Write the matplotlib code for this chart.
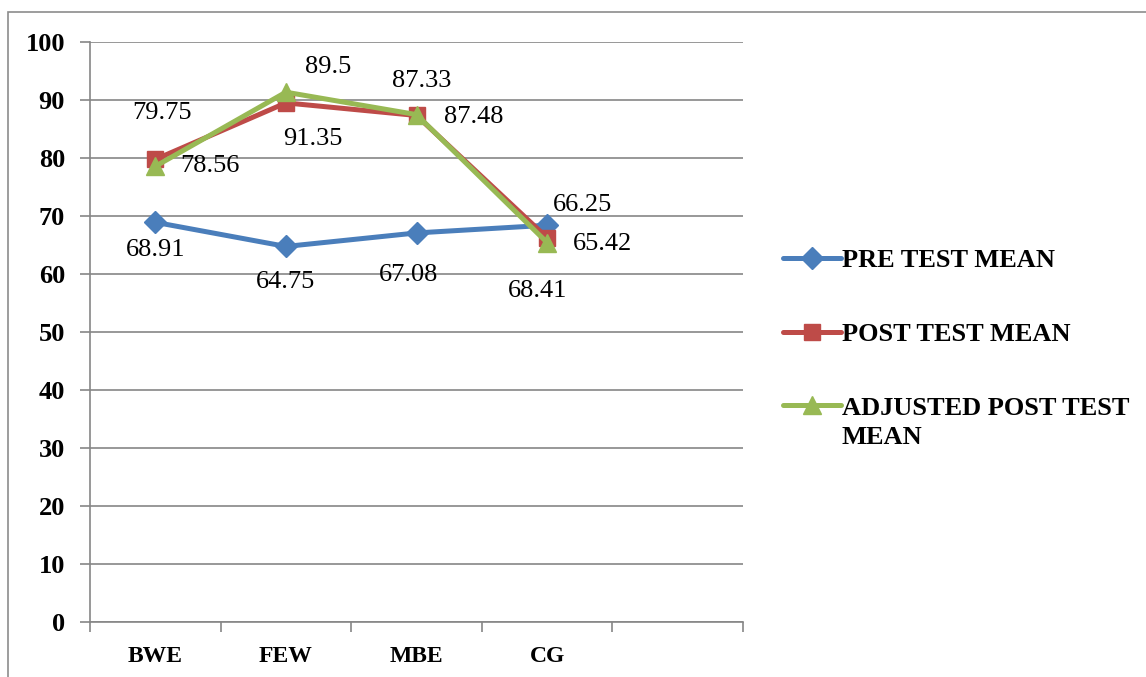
import matplotlib

matplotlib.use("Agg")
import matplotlib.pyplot as plt
from matplotlib.patches import Rectangle

plt.rcParams["font.family"] = ["Liberation Serif", "DejaVu Serif"]

groups = ["BWE", "FEW", "MBE", "CG", ""]
pre_mean = [68.91, 64.75, 67.08, 68.41]
post_mean = [79.75, 89.5, 87.33, 66.25]
adj_post_mean = [78.56, 91.35, 87.48, 65.42]
series_names = ["PRE TEST MEAN", "POST TEST MEAN", "ADJUSTED POST TEST"]
y_ticks = [0, 10, 20, 30, 40, 50, 60, 70, 80, 90, 100]

# label offsets in pixels (placed by hand, like the original Excel chart)
pre_off = [(0, -28), (0, -36), (-8, -42), (-10, -66)]
post_off = [(7, 46), (42, 36), (5, 34), (35, 33)]
adj_off = [(55, 0), (27, -47), (57, -2), (55, -1)]

W, H = 1146, 677
fig = plt.figure(figsize=(W / 100, H / 100), dpi=100)
fig.patches.append(Rectangle((8 / W, -0.1), 1.2, 1 - 12 / H + 0.1,
                             transform=fig.transFigure, fill=False,
                             edgecolor="#8c8c8c", linewidth=1.2))
ax = fig.add_axes([90 / W, 1 - 622 / H, (743 - 90) / W, (622 - 42) / H])

x = list(range(len(pre_mean)))
styles = [
    (pre_mean, "#4A7EBB", "D", 11, pre_off),
    (post_mean, "#BE4B48", "s", 12, post_off),
    (adj_post_mean, "#98B954", "^", 13, adj_off),
]
for (vals, col, mk, ms, offs), name in zip(styles, series_names):
    ax.plot(x, vals, color=col, lw=3.6, marker=mk, markersize=ms,
            label=name, solid_capstyle="round", zorder=3)
    for xi, v, off in zip(x, vals, offs):
        ax.annotate(f"{v:g}", (xi, v), xytext=off, textcoords="offset pixels",
                    ha="center", va="center", fontsize=19, zorder=4)

ax.set_xlim(-0.5, len(groups) - 0.5)
ax.set_ylim(0, 100)
ax.set_yticks(y_ticks)
ax.set_yticklabels([str(t) for t in y_ticks], fontsize=19, fontweight="bold")
ax.set_xticks([i - 0.5 for i in range(len(groups) + 1)])
ax.set_xticklabels([])
ax.set_xticks(range(len(groups)), minor=True)
ax.set_xticklabels(groups, minor=True, fontsize=17, fontweight="bold")
ax.tick_params(axis="x", which="minor", length=0, pad=17)
ax.tick_params(axis="both", which="major", length=7, color="#868686", width=1.2)
ax.tick_params(axis="y", pad=11)
ax.grid(axis="y", color="#868686", linewidth=1.2)
ax.set_axisbelow(True)
for s in ["top", "right"]:
    ax.spines[s].set_visible(False)
for s in ["left", "bottom"]:
    ax.spines[s].set_color("#868686")
    ax.spines[s].set_linewidth(1.2)

leg = fig.legend(loc="upper left", bbox_to_anchor=(783 / W, 1 - 249 / H),
                 frameon=False, prop={"size": 19, "weight": "bold"},
                 handlelength=2.2, handletextpad=0.05, labelspacing=1.9,
                 borderaxespad=0, borderpad=0)
# second line of the last legend entry sits below, handle stays on first line
fig.text(842 / W, 1 - 438 / H, "MEAN", fontsize=19, fontweight="bold",
         ha="left", va="center")

fig.savefig("out.png", dpi=100)
